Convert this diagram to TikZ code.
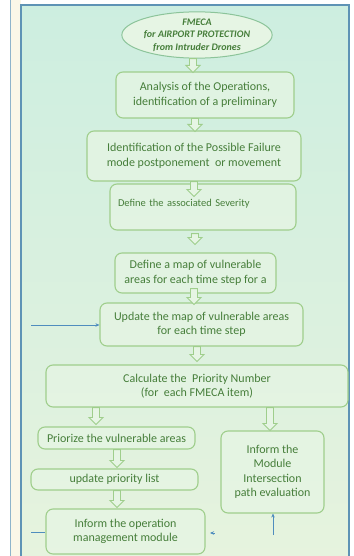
\documentclass[tikz,border=0pt]{standalone}
\usepackage{fontspec}
\setmainfont{Carlito}
\usetikzlibrary{shapes.geometric,calc,arrows.meta}
\definecolor{txt}{HTML}{467E3A}
\definecolor{bord}{HTML}{9FCE8C}
\definecolor{boxfill}{HTML}{E6F5E4}
\definecolor{framecol}{HTML}{5E93B5}
\definecolor{blueln}{HTML}{4F8DBE}
\definecolor{cream}{HTML}{FAF7E8}
\definecolor{ellbord}{HTML}{8CC49A}
\definecolor{bgtop}{HTML}{CDEEE0}
\definecolor{bgbot}{HTML}{E6F3DE}
\tikzset{
  box/.style={draw=bord, line width=1.1pt, rounded corners=7pt, fill=boxfill,
    fill opacity=0.75, text opacity=1, text=txt, align=center, inner sep=2pt,
    font=\fontsize{12}{14.5}\selectfont},
  ell/.style={ellipse, draw=ellbord, line width=1pt, fill=boxfill, text=txt,
    align=center, inner sep=0pt, font=\fontsize{10}{12.5}\selectfont\bfseries\itshape},
  harrow/.style={draw=bord, fill=boxfill, line width=0.9pt, line join=miter},
  bl/.style={draw=blueln, line width=0.7pt},
  blarr/.style={bl, -{Stealth[length=4pt,width=3.5pt]}}
}
\newcommand\blk[3]{%
  \draw[harrow] let \p1=#2, \p2=#3 in
    (#1pt-3.5pt,\y1) -- (#1pt+3.5pt,\y1) -- (#1pt+3.5pt,\y2+7pt) --
    (#1pt+7pt,\y2+7pt) -- (#1pt,\y2) -- (#1pt-7pt,\y2+7pt) --
    (#1pt-3.5pt,\y2+7pt) -- cycle;}
\begin{document}
\begin{tikzpicture}[x=1pt,y=-1pt]
\useasboundingbox (0,0) rectangle (353,556);
% page and frame
\fill[white] (0,0) rectangle (353,556);
\fill[cream] (11,0) rectangle (21,556);
\draw[framecol!70, line width=1pt] (10.5,0) -- (10.5,556);
\shade[top color=bgtop, bottom color=bgbot] (21,5) rectangle (349,558);
\draw[framecol, line width=1.3pt] (21,558) -- (21,5) -- (349,5) -- (349,558);

% nodes
\node[ell, minimum width=146, minimum height=40] (e) at (197,35)
  {FMECA\\for AIRPORT PROTECTION\\from Intruder Drones};
\node[box, minimum width=178, minimum height=46] (b1) at (205,95)
  {Analysis of the Operations,\\identification of a preliminary};
\node[box, minimum width=214, minimum height=50] (b2) at (194,156)
  {Identification of the Possible Failure\\mode postponement\ \ or movement};
\node[box, minimum width=186, minimum height=46, text width=170, align=left,
  inner xsep=8pt, text depth=8.5pt, font=\fontsize{10.5}{12}\selectfont] (b3) at (203,207)
  {Define the associated Severity};
\node[box, minimum width=161, minimum height=40] (b4) at (195.5,273)
  {Define a map of vulnerable\\areas for each time step for a};
\node[box, minimum width=203, minimum height=43] (b5) at (201.5,324.5)
  {Update the map of vulnerable areas\\for each time step};
\node[box, minimum width=302, minimum height=42] (b6) at (197,386)
  {Calculate the\ \ Priority Number\\(for\ \ each FMECA item)};
\node[box, minimum width=157, minimum height=22] (b7) at (116.5,438)
  {Priorize the vulnerable areas};
\node[box, minimum width=167, minimum height=21] (b8) at (114.5,479.5)
  {update priority list};
\node[box, minimum width=159, minimum height=45] (b9) at (125.5,531.5)
  {Inform the operation\\management module};
\node[box, minimum width=103, minimum height=82] (b10) at (272.5,472)
  {Inform the\\Module\\Intersection\\path evaluation};

% hollow block arrows
\blk{193}{(e.south)}{([yshift=-1pt]b1.north)}
\blk{195}{(b1.south)}{([yshift=-1pt]b2.north)}
\blk{194}{(b2.south)}{([yshift=-13pt]b3.north)}
\blk{195}{([yshift=-3pt]b3.south)}{([yshift=8pt]b4.north)}
\blk{194}{([yshift=5pt]b4.south)}{([yshift=-2pt]b5.north)}
\blk{197}{(b5.south)}{([yshift=3pt]b6.north)}
\blk{96}{(b6.south)}{([yshift=2pt]b7.north)}
\blk{270}{(b6.south)}{(b10.north)}
\blk{117}{(b7.south)}{([yshift=1pt]b8.north)}
\blk{117}{(b8.south)}{([yshift=1pt]b9.north)}

% blue connectors
\coordinate (inA) at (31,325);
\draw[blarr] (inA) -- (inA -| b5.west);
\coordinate (inB) at (31,532);
\draw[bl] (inB) -- (inB -| b9.west);
\coordinate (tA) at (214.5,533);
\coordinate (tB) at (210,533);
\draw[blarr] (tA) -- (tB);
\coordinate (upA) at (273,535);
\draw[blarr] (upA) -- (upA |- b10.south);
\end{tikzpicture}
\end{document}
